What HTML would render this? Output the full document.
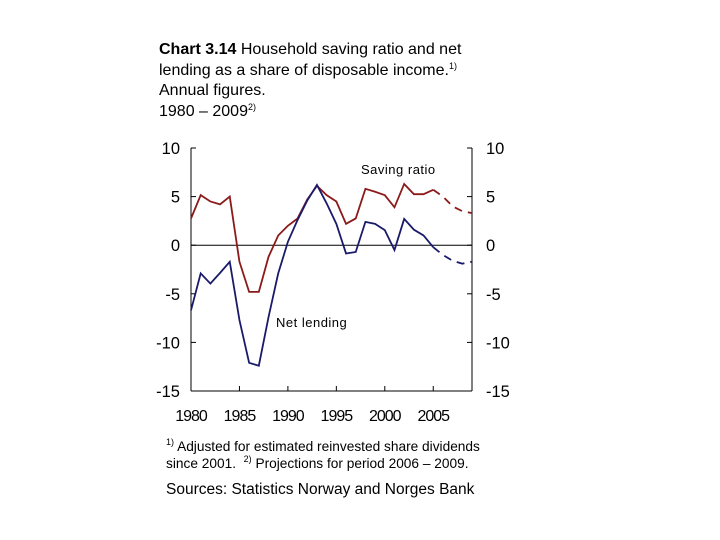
<!DOCTYPE html>
<html><head><meta charset="utf-8"><style>
body{margin:0;background:#fff;width:720px;height:540px;overflow:hidden;font-family:"Liberation Sans",sans-serif;}
.t{position:absolute;left:159px;top:40px;font-size:16px;line-height:20.5px;color:#000;}
.f{position:absolute;left:166px;font-size:13.7px;line-height:17px;color:#000;}
sup{font-size:9px;line-height:0;vertical-align:6px;}
</style></head><body>
<div class="t"><b>Chart 3.14</b> Household saving ratio and net<br>lending as a share of disposable income.<sup>1)</sup><br>Annual figures.<br>1980 – 2009<sup>2)</sup></div>
<svg id="c" width="720" height="540" style="position:absolute;left:0;top:0"></svg>
<div class="f" style="top:438px"><sup>1)</sup> Adjusted for estimated reinvested share dividends<br>since 2001. &nbsp;<sup>2)</sup> Projections for period 2006 – 2009.</div>
<div class="f" style="top:481px;font-size:15.5px">Sources: Statistics Norway and Norges Bank</div>
<script>
const years=[1980,1981,1982,1983,1984,1985,1986,1987,1988,1989,1990,1991,1992,1993,1994,1995,1996,1997,1998,1999,2000,2001,2002,2003,2004,2005,2006,2007,2008,2009];
const saving=[2.75,5.15,4.5,4.2,5.0,-1.7,-4.8,-4.8,-1.2,1.0,2.0,2.75,4.7,6.1,5.15,4.5,2.2,2.75,5.8,5.5,5.15,3.9,6.3,5.25,5.25,5.7,5.0,4.0,3.5,3.3];
const netLending=[-6.7,-2.9,-3.95,-2.85,-1.7,-7.7,-12.1,-12.4,-7.4,-2.9,0.35,2.6,4.6,6.2,4.3,2.2,-0.85,-0.7,2.4,2.2,1.55,-0.5,2.7,1.6,1.0,-0.2,-1.0,-1.6,-1.9,-1.7];
const yTicks=[10,5,0,-5,-10,-15];
const xTicks=[1980,1985,1990,1995,2000,2005];
const lastActual=2005;
const X0=191,X1=472,Y0=148,Y1=391;
const x=v=>X0+(v-1980)/(2009-1980)*(X1-X0);
const y=v=>Y0+(10-v)/25*(Y1-Y0);
const s=document.getElementById('c');const NS='http://www.w3.org/2000/svg';
function mk(t,a,p){const e=document.createElementNS(NS,t);for(const k in a)e.setAttribute(k,a[k]);(p||s).appendChild(e);return e;}
let e;
e=mk('line',{x1:X0,y1:Y0,x2:X0,y2:Y1,stroke:'#000'});
e=mk('line',{x1:X1,y1:Y0,x2:X1,y2:Y1,stroke:'#000'});
e=mk('line',{x1:X0,y1:Y1,x2:X1,y2:Y1,stroke:'#000'});
e=mk('line',{x1:X0,y1:y(0),x2:X1,y2:y(0),stroke:'#000'});
yTicks.forEach(v=>{
 mk('line',{x1:X0,y1:y(v),x2:X0+5,y2:y(v),stroke:'#000'});
 mk('line',{x1:X1-5,y1:y(v),x2:X1,y2:y(v),stroke:'#000'});
 e=mk('text',{x:180,y:y(v)+6,'text-anchor':'end','font-size':16.5,'font-family':'Liberation Sans, sans-serif'});e.textContent=v;
 
 e=mk('text',{x:486,y:y(v)+6,'font-size':16.5,'font-family':'Liberation Sans, sans-serif'});e.textContent=v;
 
});
xTicks.forEach(v=>{
 mk('line',{x1:x(v),y1:Y1,x2:x(v),y2:Y1-5,stroke:'#000'});
 e=mk('text',{x:x(v),y:421,'text-anchor':'middle','font-size':16,'letter-spacing':'-1','font-family':'Liberation Sans, sans-serif'});e.textContent=v;
 
});
function series(vals,col,name){
 const idx=years.indexOf(lastActual);
 const a=years.slice(0,idx+1).map((yr,i)=>x(yr)+','+y(vals[i])).join(' ');
 const b=years.slice(idx).map((yr,i)=>x(yr)+','+y(vals[idx+i])).join(' ');
 e=mk('polyline',{points:a,fill:'none',stroke:col,'stroke-width':1.8});
 
 e=mk('polyline',{points:b,fill:'none',stroke:col,'stroke-width':1.8,'stroke-dasharray':'8,6'});
 
}
series(saving,'#8b1a1a','saving-ratio');
series(netLending,'#1a1a6b','net-lending');
e=mk('text',{x:361,y:174,'font-size':13,'letter-spacing':'0.5','font-family':'Liberation Sans, sans-serif'});e.textContent='Saving ratio';

e=mk('text',{x:276,y:327,'font-size':13,'letter-spacing':'0.5','font-family':'Liberation Sans, sans-serif'});e.textContent='Net lending';

</script>
</body></html>
